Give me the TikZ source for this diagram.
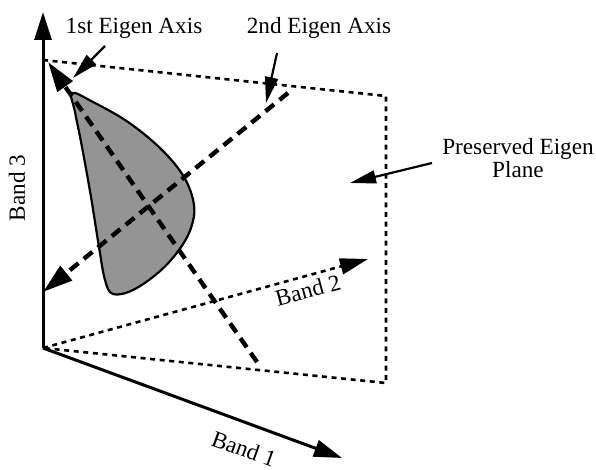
\documentclass[tikz,border=0pt]{standalone}
\usepackage{fontspec}
\setmainfont{Liberation Serif}
\usetikzlibrary{arrows.meta}
\begin{document}
\begin{tikzpicture}[x=0.5pt,y=-0.5pt,
  axis/.style={line width=1.5pt,-{Triangle[length=14pt,width=8.5pt]}},
  eigen/.style={line width=2.2pt,dash pattern=on 5.5pt off 3.5pt,-{Triangle[length=15pt,width=9pt]}},
  dotline/.style={line width=1.3pt,dash pattern=on 2.5pt off 2.3pt},
  pointer/.style={line width=1.1pt,-{Triangle[length=13pt,width=6.5pt]}},
  blob/.style={line width=1.1pt,fill=black!42},
  lbl/.style={font=\fontsize{11.6}{11.5}\selectfont,inner sep=0pt}]
\useasboundingbox (0,0) rectangle (596,470);
% axis and plane corners
\coordinate (O) at (43,348);
\coordinate (B3) at (43,12);
\coordinate (B1) at (342,458);
\coordinate (B2) at (368,259);
\coordinate (TL) at (43,60);
\coordinate (TR) at (386,96);
\coordinate (BR) at (386,383);
% eigen axes
\coordinate (E1s) at (257,362);
\coordinate (E1e) at (48,62);
\coordinate (E2s) at (288,93);
\coordinate (E2e) at (43,292);
% pointer ends
\coordinate (P1s) at (105,46);
\coordinate (P1e) at (73,78);
\coordinate (P2s) at (277,53);
\coordinate (P2e) at (266,103);
\coordinate (P3s) at (432,163);
\coordinate (P3e) at (350,183);
% plane
\draw[dotline] (TL) -- (TR) -- (BR) -- (O);
\draw[dotline,-{Triangle[length=14pt,width=8pt]}] (O) -- (B2);
% blob
\draw[blob] plot[smooth cycle,tension=0.6] coordinates {(72,93) (93,102) (128,122) (161,149) (184,177) (194,205) (191,228) (179,250) (159,272) (133,290) (113,294) (105,280) (99,247) (91,197) (82,147) (75,112)};
% axes
\draw[axis] (O) -- (B3);
\draw[axis] (O) -- (B1);
% eigen axes
\draw[eigen] (E1s) -- (E1e);
\draw[eigen] (E2s) -- (E2e);
% labels
\node[lbl,anchor=base] (l1) at (134,34) {1st Eigen Axis};
\node[lbl,anchor=base] (l2) at (319,34) {2nd Eigen Axis};
\node[lbl,align=center] (l3) at (518,158) {Preserved Eigen\\Plane};
\node[lbl,rotate=90] (b3) at (17,188) {Band 3};
\node[lbl,rotate=15] (b2) at (308,290) {Band 2};
\node[lbl,rotate=-20] (b1) at (244,449) {Band 1};
% pointers
\draw[pointer] (P1s) -- (P1e);
\draw[pointer] (P2s) -- (P2e);
\draw[pointer] (P3s) -- (P3e);
\end{tikzpicture}
\end{document}
